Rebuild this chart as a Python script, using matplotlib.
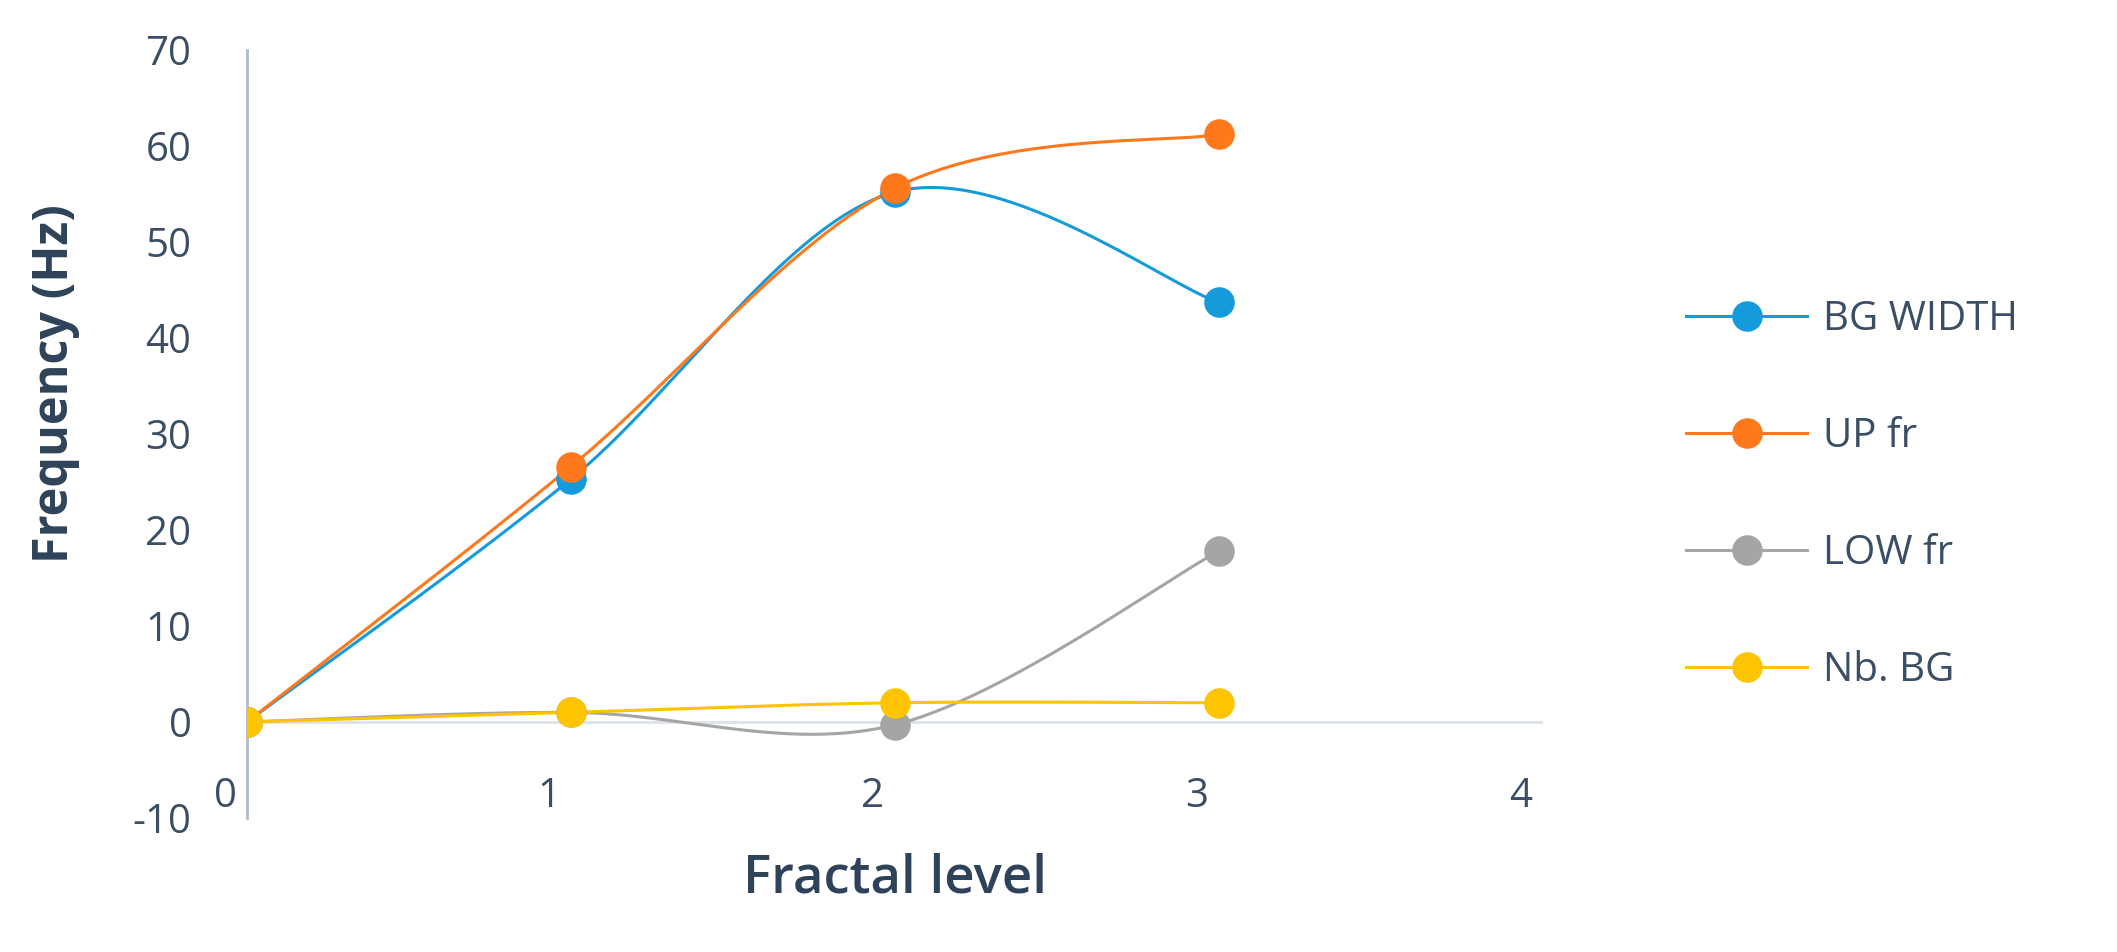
import numpy as np
import matplotlib
matplotlib.use("Agg")
import matplotlib.pyplot as plt
import matplotlib.transforms as mtransforms

# ---- data ----
fractal_level = [0, 1, 2, 3]
bg_width = [0, 25.3, 55.2, 43.7]
up_fr = [0, 26.6, 55.6, 61.2]
low_fr = [0, 1.0, -0.3, 17.8]
nb_bg = [0, 1, 2, 2]
series_names = ["BG WIDTH", "UP fr", "LOW fr", "Nb. BG"]
series_colors = ["#159BDC", "#FF781C", "#A5A5A5", "#FFC400"]
x_ticks = [0, 1, 2, 3, 4]
y_ticks = [-10, 0, 10, 20, 30, 40, 50, 60, 70]


def excel_smooth(x, y, n=60):
    """Catmull-Rom style Bezier smoothing as used by Excel smoothed lines."""
    x = np.asarray(x, float)
    y = np.asarray(y, float)
    P = np.column_stack([x, y])
    Pe = np.vstack([P[0], P, P[-1]])
    out = []
    t = np.linspace(0, 1, n)[:, None]
    for i in range(len(P) - 1):
        p0, p1, p2, p3 = Pe[i], Pe[i + 1], Pe[i + 2], Pe[i + 3]
        c1 = p1 + (p2 - p0) / 6.0
        c2 = p2 - (p3 - p1) / 6.0
        seg = ((1 - t) ** 3) * p1 + 3 * ((1 - t) ** 2) * t * c1 + 3 * (1 - t) * t ** 2 * c2 + t ** 3 * p2
        out.append(seg if i == 0 else seg[1:])
    s = np.vstack(out)
    return s[:, 0], s[:, 1]


plt.rcParams['font.family'] = ['Open Sans', 'DejaVu Sans']
text_col = "#3A4E66"

fig = plt.figure(figsize=(21.17, 9.52), dpi=100)
ax = fig.add_axes([0.1167, 0.1408, 0.612, 0.8067])

ax.set_xlim(0, 4)
ax.set_ylim(-10, 70)

# zero line (horizontal axis)
ax.axhline(0, color="#DCE2E9", lw=2.0, zorder=1)

for name, vals, col in zip(series_names, [bg_width, up_fr, low_fr, nb_bg], series_colors):
    sx, sy = excel_smooth(fractal_level, vals)
    ax.plot(sx, sy, color=col, lw=2.2, zorder=3)
    ax.plot(fractal_level, vals, linestyle="none", marker="o", markersize=22,
            color=col, markeredgewidth=0, zorder=4)
    # legend proxy
    ax.plot([], [], color=col, lw=2.2, marker="o", markersize=22,
            markeredgewidth=0, label=name)

for s in ["top", "right", "bottom"]:
    ax.spines[s].set_visible(False)
ax.spines["left"].set_color("#AEBBCB")
ax.spines["left"].set_linewidth(2.0)
ax.spines["left"].set_position(("data", 0))

ax.set_xticks(x_ticks)
ax.set_xticklabels([str(v) for v in x_ticks])
ax.set_yticks(y_ticks)
ax.set_yticklabels([str(v) for v in y_ticks])
ax.tick_params(axis="both", length=0, labelsize=29, labelcolor=text_col)
ax.tick_params(axis="y", pad=40)
ax.tick_params(axis="x", pad=-30)

offset = mtransforms.ScaledTranslation(-22 / 100, 0, fig.dpi_scale_trans)
for lbl in ax.get_xticklabels():
    lbl.set_transform(lbl.get_transform() + offset)

ax.set_xlabel("Fractal level", fontsize=38, color="#2E4259", fontweight="semibold",
              fontstretch="condensed")
ax.xaxis.label.set_va("center")
ax.xaxis.set_label_coords(0.5, -0.08)
ax.set_ylabel("Frequency (Hz)", fontsize=35, color="#2E4259", fontweight="bold")
ax.yaxis.label.set_va("center")
ax.yaxis.set_label_coords(-0.148, 0.565)

leg = ax.legend(loc="center left", bbox_to_anchor=(1.083, 0.42), frameon=False,
                fontsize=29, labelcolor=text_col, handlelength=3.0,
                labelspacing=1.9, handletextpad=0.4)

fig.savefig("out.png", dpi=100)
